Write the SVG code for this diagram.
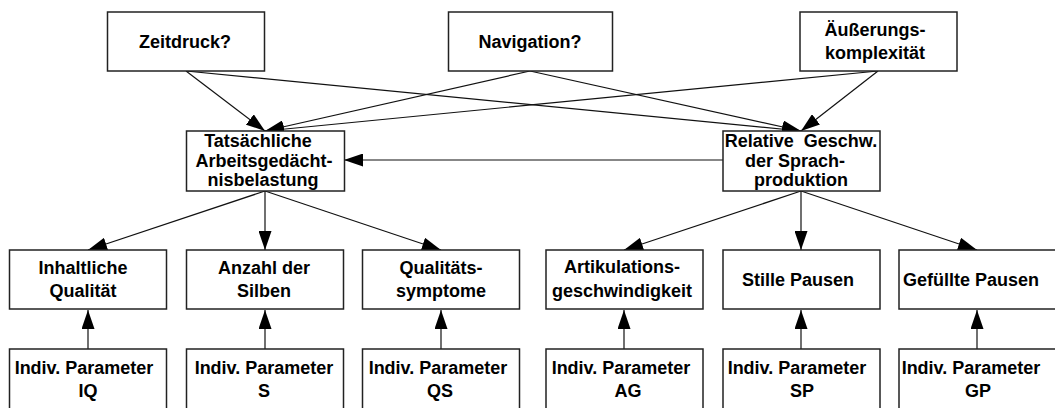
<svg xmlns="http://www.w3.org/2000/svg" width="1055" height="408" viewBox="0 0 1055 408">
<defs>
<style>
.box{fill:#fff;stroke:#222;stroke-width:1.5}
.t{font-family:"Liberation Sans",Arial,sans-serif;font-weight:bold;font-size:18px;fill:#000;text-anchor:middle}
.c{fill:none;stroke:#111;stroke-width:1.2}
</style>
<marker id="ah" markerUnits="userSpaceOnUse" markerWidth="19" markerHeight="13" refX="19" refY="6.5" orient="auto">
<path d="M0,0 L19,6.5 L0,13 z" fill="#000"/>
</marker>
</defs>
<rect width="1055" height="408" fill="#fff"/>
<g id="connectors">
<line class="c" x1="186" y1="71" x2="265" y2="131" marker-end="url(#ah)"/>
<line class="c" x1="186" y1="71" x2="801" y2="131" marker-end="url(#ah)"/>
<line class="c" x1="530" y1="71" x2="265" y2="131" marker-end="url(#ah)"/>
<line class="c" x1="530" y1="71" x2="801" y2="131" marker-end="url(#ah)"/>
<line class="c" x1="878" y1="71" x2="265" y2="131" marker-end="url(#ah)"/>
<line class="c" x1="878" y1="71" x2="801" y2="131" marker-end="url(#ah)"/>
<line class="c" x1="723" y1="160" x2="344" y2="160" marker-end="url(#ah)"/>
<line class="c" x1="265" y1="191" x2="88" y2="250" marker-end="url(#ah)"/>
<line class="c" x1="265" y1="191" x2="265" y2="250" marker-end="url(#ah)"/>
<line class="c" x1="265" y1="191" x2="441" y2="250" marker-end="url(#ah)"/>
<line class="c" x1="801" y1="191" x2="624" y2="250" marker-end="url(#ah)"/>
<line class="c" x1="801" y1="191" x2="801" y2="250" marker-end="url(#ah)"/>
<line class="c" x1="801" y1="191" x2="977" y2="250" marker-end="url(#ah)"/>
<line class="c" x1="88" y1="349" x2="88" y2="310" marker-end="url(#ah)"/>
<line class="c" x1="265" y1="349" x2="265" y2="310" marker-end="url(#ah)"/>
<line class="c" x1="441" y1="349" x2="441" y2="310" marker-end="url(#ah)"/>
<line class="c" x1="624" y1="349" x2="624" y2="310" marker-end="url(#ah)"/>
<line class="c" x1="801" y1="349" x2="801" y2="310" marker-end="url(#ah)"/>
<line class="c" x1="977" y1="349" x2="977" y2="310" marker-end="url(#ah)"/>
</g>
<g id="zeitdruck"><rect class="box" x="107.5" y="12" width="157" height="59"/><text class="t" x="185" y="48">Zeitdruck?</text></g>
<g id="navigation"><rect class="box" x="448.5" y="12" width="164" height="59"/><text class="t" x="530" y="48">Navigation?</text></g>
<g id="aeusserung"><rect class="box" x="800" y="12" width="157" height="59"/><text class="t" x="875" y="36">Äußerungs-</text><text class="t" x="875" y="59">komplexität</text></g>
<g id="arbeitsgedaechtnis"><rect class="box" x="186.5" y="131" width="158" height="60"/><text class="t" x="258" y="147">Tatsächliche</text><text class="t" x="264" y="167">Arbeitsgedächt-</text><text class="t" x="263" y="186">nisbelastung</text></g>
<g id="sprachproduktion"><rect class="box" x="723" y="131" width="157" height="60"/><text class="t" x="801" y="147" word-spacing="5">Relative Geschw.</text><text class="t" x="795" y="167">der Sprach-</text><text class="t" x="801" y="186">produktion</text></g>
<g id="inhaltliche"><rect class="box" x="9.5" y="250" width="157" height="59"/><text class="t" x="83" y="274">Inhaltliche</text><text class="t" x="83" y="297">Qualität</text></g>
<g id="anzahl"><rect class="box" x="186.5" y="250" width="157" height="59"/><text class="t" x="264" y="274">Anzahl der</text><text class="t" x="264" y="297">Silben</text></g>
<g id="qualitaet"><rect class="box" x="362.5" y="250" width="157" height="59"/><text class="t" x="441" y="274">Qualitäts-</text><text class="t" x="441" y="297">symptome</text></g>
<g id="artikulation"><rect class="box" x="546" y="250" width="157" height="59"/><text class="t" x="622" y="273">Artikulations-</text><text class="t" x="622" y="297">geschwindigkeit</text></g>
<g id="stille"><rect class="box" x="723" y="250" width="157" height="59"/><text class="t" x="798" y="286">Stille Pausen</text></g>
<g id="gefuellte"><rect class="box" x="899" y="250" width="160" height="59"/><text class="t" x="971" y="286">Gefüllte Pausen</text></g>
<g id="param-iq"><rect class="box" x="9.5" y="349" width="157" height="62"/><text class="t" x="84" y="374">Indiv. Parameter</text><text class="t" x="88" y="397">IQ</text></g>
<g id="param-s"><rect class="box" x="186.5" y="349" width="157" height="62"/><text class="t" x="264" y="374">Indiv. Parameter</text><text class="t" x="264" y="397">S</text></g>
<g id="param-qs"><rect class="box" x="362.5" y="349" width="157" height="62"/><text class="t" x="438" y="374">Indiv. Parameter</text><text class="t" x="440" y="397">QS</text></g>
<g id="param-ag"><rect class="box" x="546" y="349" width="157" height="62"/><text class="t" x="621" y="374">Indiv. Parameter</text><text class="t" x="628" y="397">AG</text></g>
<g id="param-sp"><rect class="box" x="723" y="349" width="157" height="62"/><text class="t" x="797" y="374">Indiv. Parameter</text><text class="t" x="802" y="397">SP</text></g>
<g id="param-gp"><rect class="box" x="899" y="349" width="160" height="62"/><text class="t" x="971" y="374">Indiv. Parameter</text><text class="t" x="978" y="397">GP</text></g>
</svg>
